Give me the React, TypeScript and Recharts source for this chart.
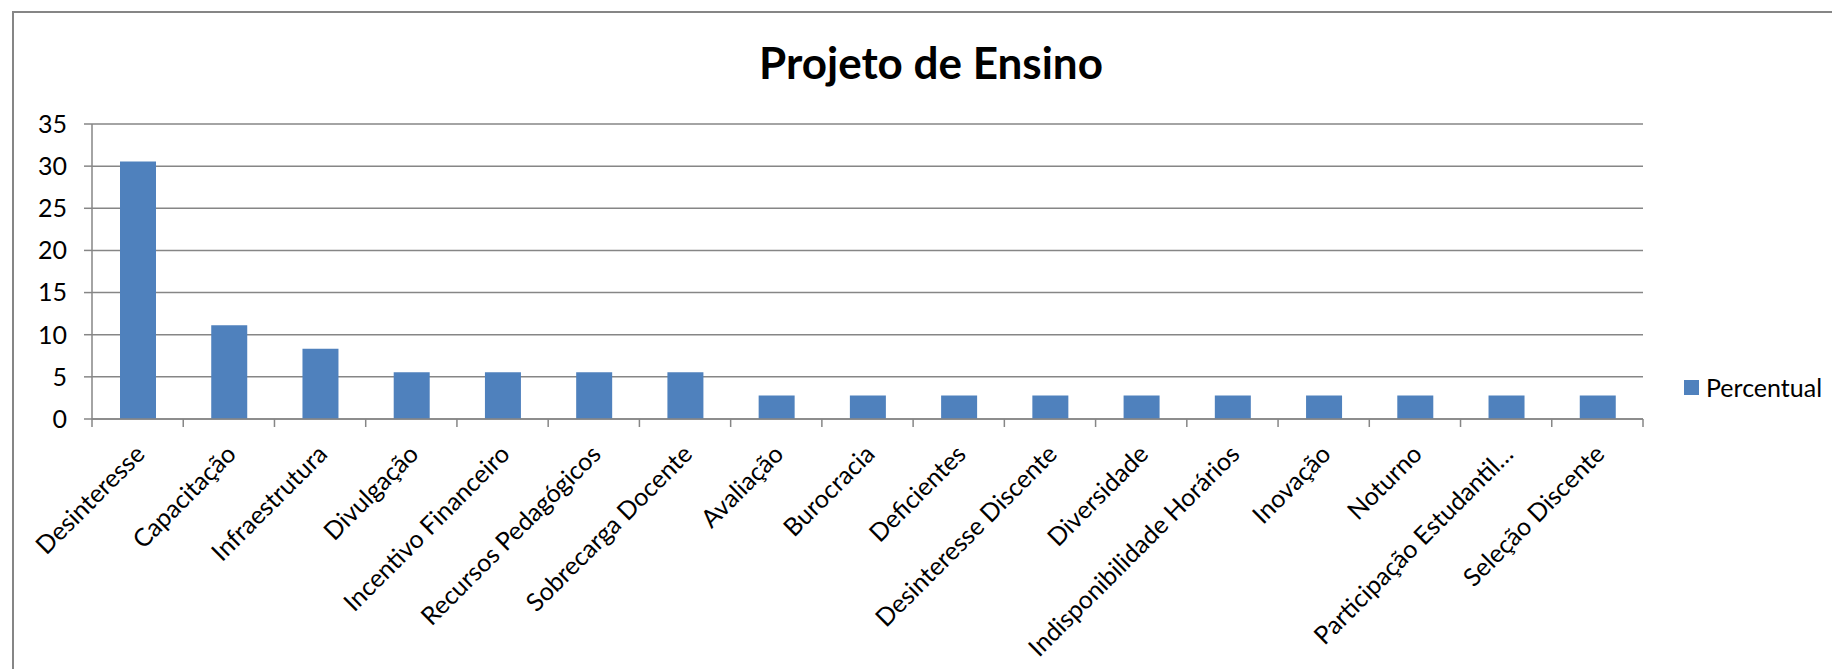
import { Bar, BarChart, CartesianGrid, Legend, XAxis, YAxis } from "recharts";

const CATEGORIAS = [
  "Desinteresse",
  "Capacitação",
  "Infraestrutura",
  "Divulgação",
  "Incentivo Financeiro",
  "Recursos Pedagógicos",
  "Sobrecarga Docente",
  "Avaliação",
  "Burocracia",
  "Deficientes",
  "Desinteresse Discente",
  "Diversidade",
  "Indisponibilidade Horários",
  "Inovação",
  "Noturno",
  "Participação Estudantil…",
  "Seleção Discente",
];

const PERCENTUAL = [30.56, 11.11, 8.33, 5.56, 5.56, 5.56, 5.56, 2.78, 2.78, 2.78, 2.78, 2.78, 2.78, 2.78, 2.78, 2.78, 2.78];

const Y_TICKS = [0, 5, 10, 15, 20, 25, 30, 35];

const AZUL = "#4F81BD";
const CINZA = "#868686";
const FONTE = "Lato, 'Open Sans', sans-serif";

// geometria do gráfico
const LARGURA = 1832;
const ALTURA = 669;
const MARGEM = { top: 124, right: 189, left: 0, bottom: 0 };
const LARGURA_EIXO_Y = 92;
const ALTURA_EIXO_X = 250;
const BASE = ALTURA - MARGEM.bottom - ALTURA_EIXO_X;
const LARGURA_BANDA = (LARGURA - MARGEM.left - MARGEM.right - LARGURA_EIXO_Y) / CATEGORIAS.length;

const data = CATEGORIAS.map((c, i) => ({ categoria: c, percentual: PERCENTUAL[i] }));

function TickCategoria({ x, y, payload, index }: any) {
  const meia = LARGURA_BANDA / 2;
  return (
    <g>
      {/* marcas nos limites das categorias, como no Excel */}
      <line x1={x - meia} x2={x - meia} y1={BASE} y2={BASE + 8} stroke={CINZA} strokeWidth={1.5} />
      {index === CATEGORIAS.length - 1 && (
        <line x1={x + meia} x2={x + meia} y1={BASE} y2={BASE + 8} stroke={CINZA} strokeWidth={1.5} />
      )}
      <g transform={`translate(${x - 4},${y + 14})`}>
        <text textAnchor="end" transform="rotate(-45)" dy="0.72em" fontSize={25} fontFamily={FONTE} fill="#000">
          {payload.value}
        </text>
      </g>
    </g>
  );
}

function Legenda() {
  return (
    <div style={{ display: "flex", alignItems: "center", fontFamily: FONTE, fontSize: 25, color: "#000" }}>
      <span style={{ width: 15, height: 15, background: AZUL, display: "inline-block", marginRight: 7 }} />
      Percentual
    </div>
  );
}

export default function App() {
  return (
    <div style={{ position: "absolute", left: 0, top: 0, width: LARGURA, height: ALTURA, overflow: "hidden", background: "#fff" }}>
      <div
        style={{
          position: "absolute",
          left: 12,
          top: 11,
          width: 1900,
          height: 800,
          borderLeft: `2px solid ${CINZA}`,
          borderTop: `2px solid ${CINZA}`,
        }}
      />
      <div
        style={{
          position: "absolute",
          left: 0,
          top: 36,
          width: 1862,
          textAlign: "center",
          fontFamily: FONTE,
          fontWeight: 700,
          fontSize: 44,
          color: "#000",
        }}
      >
        Projeto de Ensino
      </div>
      <div style={{ position: "absolute", left: 0, top: 0 }}>
        <BarChart width={LARGURA} height={ALTURA} data={data} margin={MARGEM}>
          <CartesianGrid vertical={false} stroke={CINZA} strokeWidth={1.5} />
          <XAxis
            dataKey="categoria"
            interval={0}
            height={ALTURA_EIXO_X}
            tickSize={8}
            tickLine={false}
            stroke={CINZA}
            strokeWidth={1.5}
            tick={<TickCategoria />}
          />
          <YAxis
            width={LARGURA_EIXO_Y}
            domain={[0, 35]}
            ticks={Y_TICKS}
            tickSize={8}
            tickMargin={17}
            stroke={CINZA}
            strokeWidth={1.5}
            tick={{ fontSize: 25, fontFamily: FONTE, fill: "#000" }}
          />
          <Legend
            verticalAlign="middle"
            align="center"
            layout="horizontal"
            width={160}
            wrapperStyle={{ left: 1684, top: 372 }}
            content={() => <Legenda />}
          />
          <Bar dataKey="percentual" name="Percentual" fill={AZUL} barSize={36} isAnimationActive={false} />
        </BarChart>
      </div>
    </div>
  );
}
